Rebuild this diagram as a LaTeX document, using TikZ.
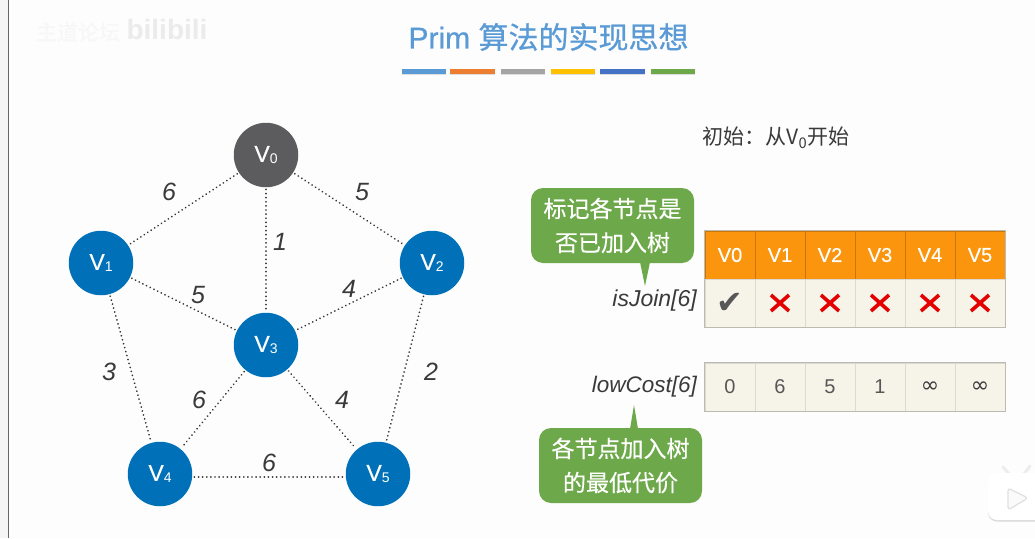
\documentclass[tikz,border=0pt]{standalone}
\usepackage{fontspec}
\usetikzlibrary{shadows}
\setmainfont{Liberation Sans}
\newfontfamily\cjk{Noto Sans CJK SC}
\newfontfamily\cjkm[FakeBold=0.4]{Noto Sans CJK SC}
\newfontfamily\cjkt[FakeBold=0.7]{Noto Sans CJK SC}
\newfontfamily\sansm[FakeBold=0.4]{Liberation Sans}
\newfontfamily\sanst[FakeBold=0.7]{Liberation Sans}
\newfontfamily\dejavu{DejaVu Sans}
\definecolor{nodeblue}{HTML}{0070B8}
\definecolor{nodegray}{HTML}{5C5C5E}
\definecolor{hdr}{HTML}{FB950D}
\definecolor{cellbg}{HTML}{F6F3E9}
\definecolor{cellline}{HTML}{BDBAB2}
\definecolor{calloutg}{HTML}{6DA94A}
\definecolor{titleblue}{HTML}{5B9BD5}
\definecolor{bgc}{HTML}{FDFDFE}
\definecolor{txt}{HTML}{3A3A3A}
\definecolor{barorange}{HTML}{ED7D31}
\definecolor{bargray}{HTML}{A5A5A5}
\definecolor{baryellow}{HTML}{FFC000}
\definecolor{barblue}{HTML}{4472C4}
\newcommand{\vlab}[1]{{\sansm\fontsize{23}{23}\selectfont V}\raisebox{-2pt}{\fontsize{14}{14}\selectfont #1}}
\newcommand{\infglyph}{\raisebox{-3pt}{\dejavu\fontsize{22}{22}\selectfont ∞}}
\tikzset{
  x=1pt,y=-1pt,
  vert/.style={circle,minimum size=64.5pt,inner sep=0pt,text=white,fill=nodeblue},
  edgeline/.style={draw=black!80,line width=1.9pt,line cap=round,dash pattern=on 0.01pt off 4.1pt,shorten >=2pt,shorten <=2pt},
  wt/.style={font=\fontsize{25}{25}\selectfont\itshape,text=txt,inner sep=0pt},
  hcell/.style={draw=hdr!80!black,line width=.5pt,fill=hdr,minimum width=50pt,minimum height=48pt,inner sep=0pt,text=white,font=\sansm\fontsize{20}{20}\selectfont},
  vcell/.style={draw=cellline!55,line width=.6pt,fill=cellbg,minimum width=50pt,minimum height=48pt,inner sep=0pt,text=txt!85,font=\fontsize{20}{20}\selectfont},
  tableframe/.style={draw=cellline,line width=.8pt},
  lab/.style={text=txt,inner sep=0pt,anchor=east},
  callout/.style={fill=calloutg,rounded corners=12pt,inner sep=0pt,text=white,font=\cjkm\fontsize{23}{34}\selectfont,align=center},
  bar/.style={minimum height=5pt,inner sep=0pt,minimum width=44.5pt,drop shadow={shadow xshift=0pt,shadow yshift=-1.5pt,opacity=.25}},
  cross/.style={draw=red!90!black,line width=3.6pt},
}
\begin{document}
\begin{tikzpicture}
\useasboundingbox (0,0) rectangle (1035,538);
\fill[bgc] (0,0) rectangle (1035,538);
\fill[black!4] (0,0) rectangle (8,538);
\draw[black!60,line width=1pt] (8.3,0) -- (8.3,538);
% watermark
\node[name=wmA,inner sep=0pt,text=black!3,font=\cjkm\fontsize{21}{21}\selectfont] at (78,32) {主道论坛};
\node[name=wmB,inner sep=0pt,text=black!8,font=\fontsize{28}{28}\selectfont\bfseries] at (167,29) {bilibili};
% title
\node[name=title,inner sep=0pt,text=titleblue,font=\fontsize{30}{30}\selectfont] at (548.5,37) {{\sanst Prim} {\cjkt 算法的实现思想}};
\node[bar,name=b1,fill=titleblue,minimum width=44pt] at (423.5,71) {};
\node[bar,name=b2,fill=barorange] at (472.5,71) {};
\node[bar,name=b3,fill=bargray] at (523,71) {};
\node[bar,name=b4,fill=baryellow] at (573,71) {};
\node[bar,name=b5,fill=barblue] at (622.5,71) {};
\node[bar,name=b6,fill=calloutg] at (673,71) {};
% vertices
\node[vert,fill=nodegray,name=v0] at (266,155) {\vlab{0}};
\node[vert,name=v1] at (101,263) {\vlab{1}};
\node[vert,name=v2] at (432,263) {\vlab{2}};
\node[vert,name=v3] at (266,345) {\vlab{3}};
\node[vert,name=v4] at (160,474) {\vlab{4}};
\node[vert,name=v5] at (378,474) {\vlab{5}};
% edges
\path[edgeline] (v0)--(v1);
\path[edgeline] (v0)--(v2);
\path[edgeline] (v0)--(v3);
\path[edgeline] (v1)--(v3);
\path[edgeline] (v2)--(v3);
\path[edgeline] (v1)--(v4);
\path[edgeline] (v2)--(v5);
\path[edgeline] (v3)--(v4);
\path[edgeline] (v3)--(v5);
\path[edgeline] ([yshift=-3pt]v4.east)--([yshift=-3pt]v5.west);
% weights
\node[wt,name=w01] at (169,192) {6};
\node[wt,name=w02] at (362,192) {5};
\node[wt,name=w03] at (280,242) {1};
\node[wt,name=w13] at (198,295) {5};
\node[wt,name=w23] at (349,289) {4};
\node[wt,name=w14] at (109,372) {3};
\node[wt,name=w25] at (431,372) {2};
\node[wt,name=w34] at (199,400) {6};
\node[wt,name=w35] at (342,400) {4};
\node[wt,name=w45] at (269,463) {6};
% captions
\node[name=init,inner sep=0pt,text=txt,font=\cjk\fontsize{21}{21}\selectfont] at (776,138) {初始：从V\textsubscript{0}开始};
% table 1
\foreach \n/\t [count=\i from 0] in {h0/V0,h1/V1,h2/V2,h3/V3,h4/V4,h5/V5}
  \node[hcell,name=\n] at (730+50*\i,255) {\t};
\node[vcell,name=c0] at (730,303) {\dejavu\fontsize{32}{32}\selectfont\symbol{"2714}};
\foreach \n [count=\i from 1] in {c1,c2,c3,c4,c5}{
  \node[vcell,name=\n] at (730+50*\i,303) {};
  \draw[cross] ([shift={(-9pt,8pt)}]\n.center) -- ([shift={(9pt,-8pt)}]\n.center) ([shift={(9pt,8pt)}]\n.center) -- ([shift={(-9pt,-8pt)}]\n.center);
}
\draw[tableframe] (h0.north west) rectangle (c5.south east);
\node[lab,name=isj,font=\fontsize{23}{23}\selectfont\itshape] at (697,301) {isJoin[6]};
% table 2
\foreach \n/\t [count=\i from 0] in {l0/0,l1/6,l2/5,l3/1}
  \node[vcell,name=\n] at (730+50*\i,387) {\t};
\node[vcell,name=l4,text=txt] at (930,387) {\infglyph};
\node[vcell,name=l5,text=txt] at (980,387) {\infglyph};
\draw[tableframe] (l0.north west) rectangle (l5.south east);
\node[lab,name=lc,font=\fontsize{22.5}{22.5}\selectfont\itshape] at (697,387) {lowCost[6]};
% callouts
\node[callout,name=ca,minimum width=163pt,minimum height=75pt] at (612.5,225.5) {标记各节点是\\否已加入树};
\fill[calloutg] (640,262) -- (645,286) -- (650,262) -- cycle;
\node[callout,name=cb,minimum width=163pt,minimum height=75pt] at (620.5,465.5) {各节点加入树\\的最低代价};
\fill[calloutg] (630,429) -- (634,405) -- (638,429) -- cycle;
% play badge
\draw[black!7,line width=3pt,line cap=round] (1003,467) -- (1009,474) (1030,466) -- (1024,474);
\path[fill=white,rounded corners=9pt,drop shadow={shadow xshift=0pt,shadow yshift=-1.5pt,opacity=.28}] (988,473) rectangle (1045,520);
\path[draw=black!12,line width=1.2pt,fill=black!2,rounded corners=3pt] (1008,488) -- (1028,498) -- (1008,510) -- cycle;
\end{tikzpicture}
\end{document}
